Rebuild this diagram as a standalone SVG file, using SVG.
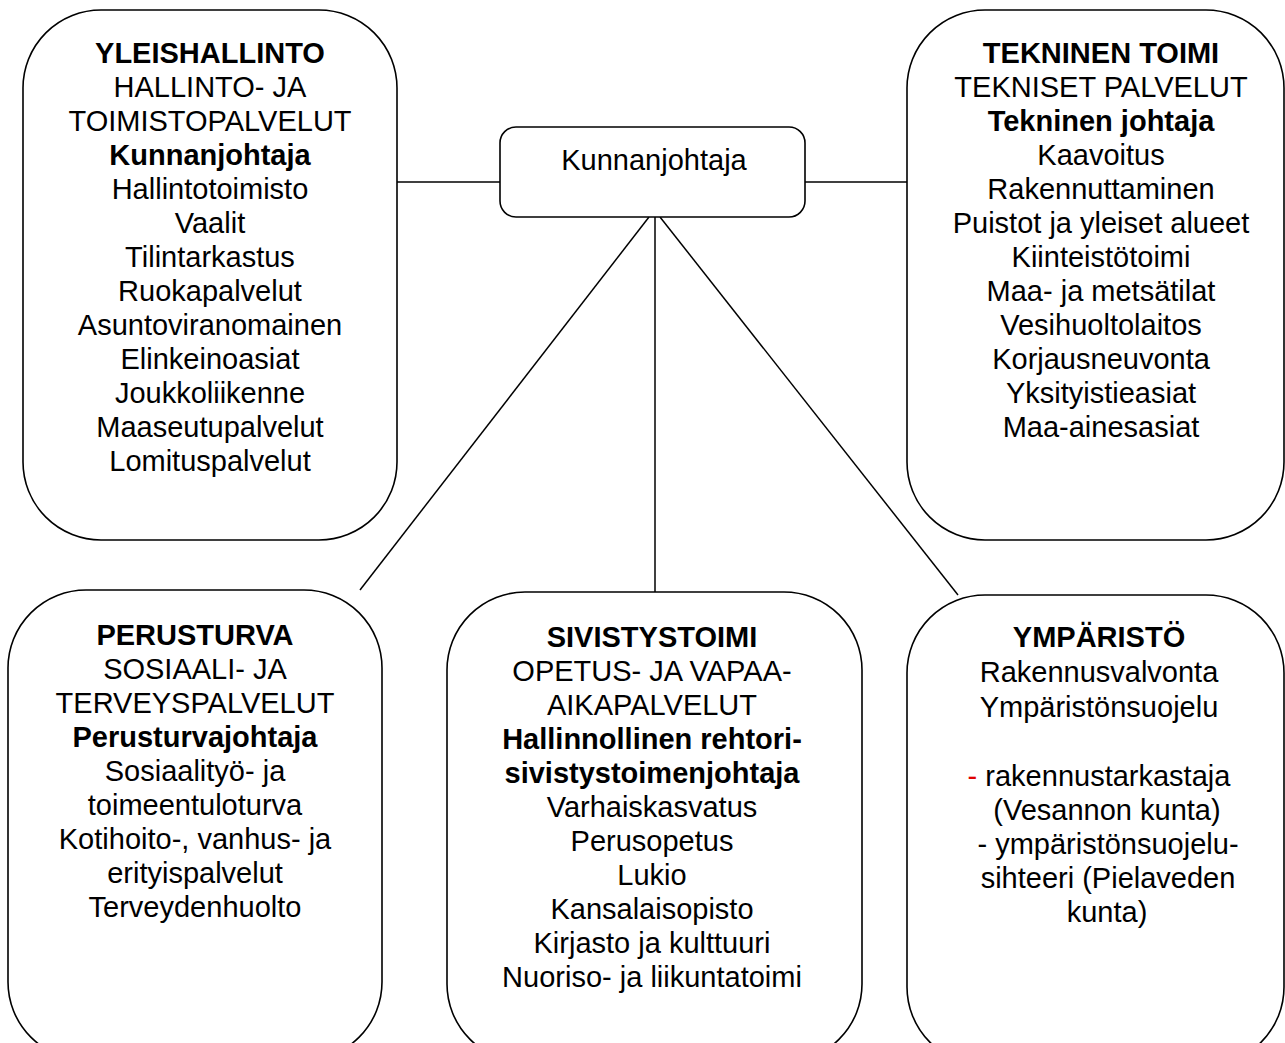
<svg xmlns="http://www.w3.org/2000/svg" width="1285" height="1043" viewBox="0 0 1285 1043">
<style>
.box{fill:#fff;stroke:#000;stroke-width:1.6}
.conn line{stroke:#000;stroke-width:1.5}
text{font-family:"Liberation Sans",Arial,sans-serif;font-size:29px;fill:#000;text-anchor:middle}
.b{font-weight:bold}
.red{fill:#e00000}
</style>
<rect width="1285" height="1043" fill="#fff"/>
<g id="connectors" class="conn">
<line x1="397" y1="182" x2="500" y2="182"/>
<line x1="805" y1="182" x2="907" y2="182"/>
<line x1="649" y1="217" x2="360" y2="590"/>
<line x1="655" y1="217" x2="655" y2="592"/>
<line x1="660" y1="217" x2="958" y2="595"/>
</g>
<g id="kunnanjohtaja">
<rect class="box" x="500" y="127" width="305" height="90" rx="16"/>
<text x="654" y="170">Kunnanjohtaja</text>
</g>
<g id="yleishallinto">
<rect class="box" x="23" y="10" width="374" height="530" rx="78"/>
<text x="210" y="63" class="b">YLEISHALLINTO</text>
<text x="210" y="97">HALLINTO- JA</text>
<text x="210" y="131">TOIMISTOPALVELUT</text>
<text x="210" y="165" class="b">Kunnanjohtaja</text>
<text x="210" y="199">Hallintotoimisto</text>
<text x="210" y="233">Vaalit</text>
<text x="210" y="267">Tilintarkastus</text>
<text x="210" y="301">Ruokapalvelut</text>
<text x="210" y="335">Asuntoviranomainen</text>
<text x="210" y="369">Elinkeinoasiat</text>
<text x="210" y="403">Joukkoliikenne</text>
<text x="210" y="437">Maaseutupalvelut</text>
<text x="210" y="471">Lomituspalvelut</text>
</g>
<g id="tekninen">
<rect class="box" x="907" y="10" width="377" height="530" rx="78"/>
<text x="1101" y="63" class="b">TEKNINEN TOIMI</text>
<text x="1101" y="97">TEKNISET PALVELUT</text>
<text x="1101" y="131" class="b">Tekninen johtaja</text>
<text x="1101" y="165">Kaavoitus</text>
<text x="1101" y="199">Rakennuttaminen</text>
<text x="1101" y="233">Puistot ja yleiset alueet</text>
<text x="1101" y="267">Kiinteistötoimi</text>
<text x="1101" y="301">Maa- ja metsätilat</text>
<text x="1101" y="335">Vesihuoltolaitos</text>
<text x="1101" y="369">Korjausneuvonta</text>
<text x="1101" y="403">Yksityistieasiat</text>
<text x="1101" y="437">Maa-ainesasiat</text>
</g>
<g id="perusturva">
<rect class="box" x="8" y="590" width="374" height="470" rx="78"/>
<text x="195" y="645" class="b">PERUSTURVA</text>
<text x="195" y="679">SOSIAALI- JA</text>
<text x="195" y="713">TERVEYSPALVELUT</text>
<text x="195" y="747" class="b">Perusturvajohtaja</text>
<text x="195" y="781">Sosiaalityö- ja</text>
<text x="195" y="815">toimeentuloturva</text>
<text x="195" y="849">Kotihoito-, vanhus- ja</text>
<text x="195" y="883">erityispalvelut</text>
<text x="195" y="917">Terveydenhuolto</text>
</g>
<g id="sivistystoimi">
<rect class="box" x="447" y="592" width="415" height="470" rx="78"/>
<text x="652" y="647" class="b">SIVISTYSTOIMI</text>
<text x="652" y="681">OPETUS- JA VAPAA-</text>
<text x="652" y="715">AIKAPALVELUT</text>
<text x="652" y="749" class="b">Hallinnollinen rehtori-</text>
<text x="652" y="783" class="b">sivistystoimenjohtaja</text>
<text x="652" y="817">Varhaiskasvatus</text>
<text x="652" y="851">Perusopetus</text>
<text x="652" y="885">Lukio</text>
<text x="652" y="919">Kansalaisopisto</text>
<text x="652" y="953">Kirjasto ja kulttuuri</text>
<text x="652" y="987">Nuoriso- ja liikuntatoimi</text>
</g>
<g id="ymparisto">
<rect class="box" x="907" y="595" width="377" height="470" rx="78"/>
<text x="1099" y="647" class="b">YMPÄRISTÖ</text>
<text x="1099" y="682">Rakennusvalvonta</text>
<text x="1099" y="717">Ympäristönsuojelu</text>
<text x="1099" y="786"><tspan class="red">-</tspan> rakennustarkastaja</text>
<text x="1107" y="820">(Vesannon kunta)</text>
<text x="1108" y="854">- ympäristönsuojelu-</text>
<text x="1108" y="888">sihteeri (Pielaveden</text>
<text x="1107" y="922">kunta)</text>
</g>
</svg>
